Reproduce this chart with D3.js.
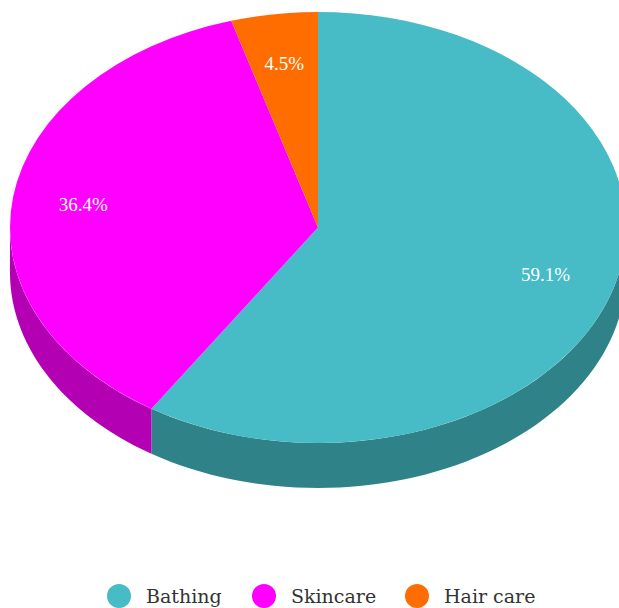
<!DOCTYPE html>
<html>
<head>
<meta charset="utf-8">
<script src="https://cdn.jsdelivr.net/npm/d3@7"></script>
<style>
  html, body { margin: 0; padding: 0; background: #fff; overflow: hidden; }
</style>
</head>
<body>
<svg id="chart" width="619" height="608"></svg>
<script>
// Pie data (13 / 8 / 1 of 22)
const categories = ["Bathing", "Skincare", "Hair care"];
const values = [13, 8, 1];
const topColors = ["#47bbc6", "#ff00ff", "#ff6d00"];
const sideColors = ["#308289", "#b300b3", "#b34c00"];

const width = 619, height = 608;
const cx = 318, cy = 227.5, rx = 308, ry = 215.5, depth = 45;

const svg = d3.select("#chart");

const pie = d3.pie().sort(null).value(d => d.value);
const slices = pie(categories.map((c, i) => ({name: c, value: values[i], i: i})));
const total = d3.sum(values);

// point on the top ellipse at a d3 pie angle (0 = 12 o'clock, clockwise)
function pt(a, dy) {
  return [cx + rx * Math.sin(a), cy - ry * Math.cos(a) + (dy || 0)];
}

// outer walls, only the front half (angles between pi/2 and 3pi/2) shows
const walls = svg.append("g");
slices.forEach(function(s) {
  const a0 = Math.max(s.startAngle, Math.PI / 2);
  const a1 = Math.min(s.endAngle, Math.PI * 1.5);
  if (a1 <= a0) return;
  const angles = d3.range(0, 61).map(k => a0 + (a1 - a0) * k / 60);
  const ptsTop = angles.map(a => pt(a, 0));
  const ptsBot = angles.slice().reverse().map(a => pt(a, depth));
  walls.append("path")
    .attr("d", d3.line()(ptsTop.concat(ptsBot)) + "Z")
    .attr("fill", sideColors[s.data.i]);
});

// top faces: circular arcs squashed into the ellipse
const arc = d3.arc().innerRadius(0).outerRadius(rx);
svg.append("g")
  .attr("transform", "translate(" + cx + "," + cy + ") scale(1," + (ry / rx) + ")")
  .selectAll("path")
  .data(slices)
  .enter().append("path")
  .attr("d", arc)
  .attr("fill", d => topColors[d.data.i]);

// percentage labels
svg.append("g").selectAll("text")
  .data(slices)
  .enter().append("text")
  .attr("x", d => cx + rx * 0.77 * Math.sin((d.startAngle + d.endAngle) / 2))
  .attr("y", d => cy - ry * 0.77 * Math.cos((d.startAngle + d.endAngle) / 2))
  .attr("dy", "0.35em")
  .attr("text-anchor", "middle")
  .attr("fill", "#fff")
  .style("font-family", "'Liberation Serif', serif")
  .style("font-size", "19px")
  .text(d => (d.data.value / total * 100).toFixed(1) + "%");

// legend along the bottom
const legendX = [119, 264, 417];
const legend = svg.append("g").selectAll("g")
  .data(categories)
  .enter().append("g")
  .attr("transform", (d, i) => "translate(" + legendX[i] + ",596)");

legend.append("circle")
  .attr("r", 12)
  .attr("fill", (d, i) => topColors[i]);

legend.append("text")
  .attr("x", 27)
  .attr("y", 7)
  .attr("fill", "#333")
  .style("font-family", "'DejaVu Serif', serif")
  .style("font-size", "19px")
  .text(d => d);
</script>
</body>
</html>
